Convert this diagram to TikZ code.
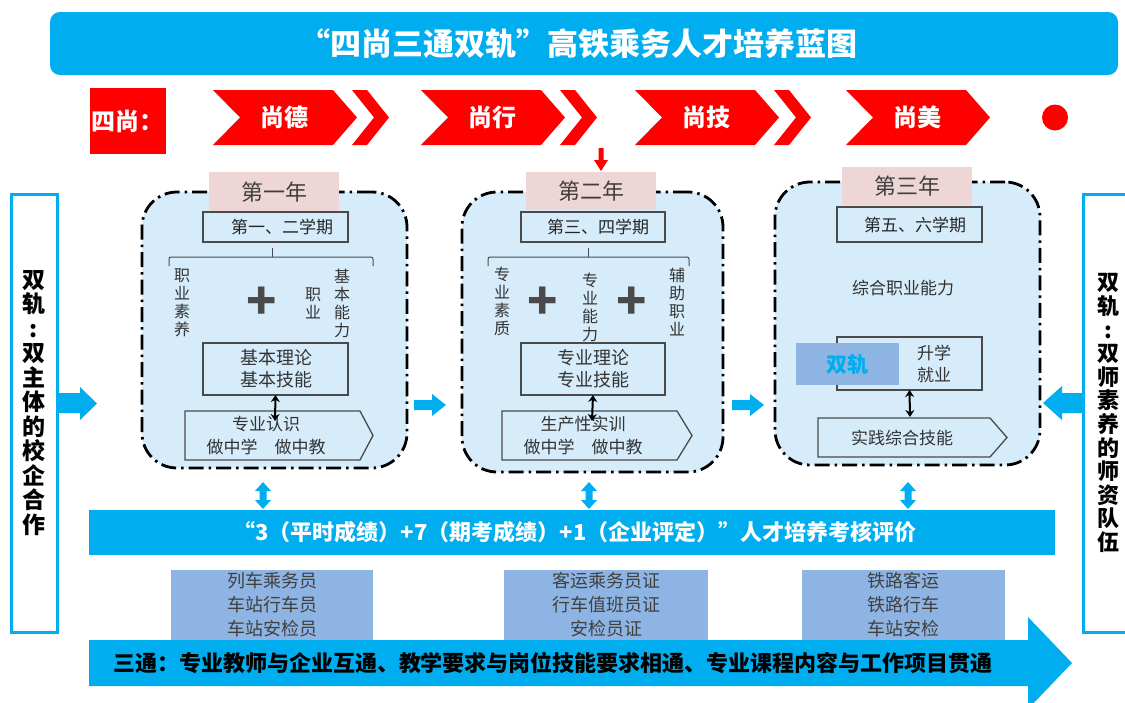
\documentclass[tikz,border=0pt]{standalone}
\usepackage{fontspec}
\setmainfont{Noto Sans CJK SC}
\usetikzlibrary{arrows.meta}
\definecolor{cy}{HTML}{00AEEF}
\definecolor{redz}{HTML}{FF0000}
\definecolor{lb}{HTML}{D6ECFA}
\definecolor{pk}{HTML}{EFD6D6}
\definecolor{cb}{HTML}{8EB4E3}
\definecolor{tg}{HTML}{333333}
\definecolor{lg}{HTML}{404040}
\definecolor{pg}{HTML}{4A4A4A}
\begin{document}
\begin{tikzpicture}[x=1pt,y=-1pt,
  every node/.style={inner sep=0pt, outer sep=0pt},
  yearbox/.style={draw=black, line width=2.8pt, dash pattern=on 15pt off 5pt on 2.5pt off 5pt, fill=lb, rounded corners=35pt},
  yearlbl/.style={fill=pk, text=lg, font=\fontsize{22}{22}\selectfont},
  thinbox/.style={draw=pg, line width=1.2pt, fill=lb},
  semtxt/.style={text=black!85, font=\fontsize{17}{17}\selectfont},
  vtext/.style={text=tg, align=center, font=\fontsize{16}{18}\selectfont},
  inner2/.style={text=tg, align=center, font=\fontsize{18}{22}\selectfont},
  plussign/.style={text=pg, font=\bfseries\fontsize{50}{50}\selectfont},
  brc/.style={draw=pg, line width=1pt, rounded corners=2pt},
  dbl/.style={line width=2pt, draw=black, {Stealth[length=7pt,width=9pt]}-{Stealth[length=7pt,width=9pt]}},
  pent/.style={draw=pg, line width=1.3pt, fill=lb},
  chevtxt/.style={text=white, font=\bfseries\fontsize{24}{24}\selectfont},
  sidetxt/.style={text=black, align=center, font=\bfseries\fontsize{23}{24.5}\selectfont},
  certbox/.style={fill=cb, minimum height=70pt, align=center, text=lg, font=\fontsize{18}{24}\selectfont},
]
\useasboundingbox (0,0) rectangle (1125,702);
\clip (0,0) rectangle (1125,702);

% title
\node[fill=cy, rounded corners=10pt, minimum width=1068pt, minimum height=63pt] (title) at (584,43.5) {};
\node[text=white, font=\bfseries\fontsize{31}{31}\selectfont] (titletxt) at (578,43.5) {“四尚三通双轨”高铁乘务人才培养蓝图};

% four "shang"
\node[fill=redz, minimum width=76pt, minimum height=66pt] (sishang) at (128,121) {};
\node[text=white, font=\bfseries\fontsize{24}{24}\selectfont] (sishangtxt) at (127,121) {四尚：};
\foreach \L in {213,421,635}{
  \fill[redz] (\L+139,90) -- ++(15,0) -- ++(22,27.5) -- ++(-22,27.5) -- ++(-15,0) -- ++(22,-27.5) -- cycle;
}
\foreach \L in {213,421,635,846}{
  \fill[redz] (\L,90) -- ++(120,0) -- ++(24,27.5) -- ++(-24,27.5) -- ++(-120,0) -- ++(27,-27.5) -- cycle;
}
\node[chevtxt] (c1) at (284,117.5) {尚德};
\node[chevtxt] (c2) at (492,117.5) {尚行};
\node[chevtxt] (c3) at (706,117.5) {尚技};
\node[chevtxt] (c4) at (917,117.5) {尚美};
\fill[redz] (1055,117.5) circle (13);
\fill[redz] (598.5,148) -- (603.5,148) -- (603.5,160) -- (608,160) -- (601,171) -- (594,160) -- (598.5,160) -- cycle;

% side panels
\node[draw=cy, line width=3pt, fill=white, minimum width=46pt, minimum height=438pt] (lp) at (34,413) {};
\node[sidetxt] (lpt) at (34,403) {双\\轨\\:\\双\\主\\体\\的\\校\\企\\合\\作};
\node[draw=cy, line width=3pt, fill=white, minimum width=50pt, minimum height=438pt] (rp) at (1108,413) {};
\node[sidetxt, font=\bfseries\fontsize{22}{23.6}\selectfont] (rpt) at (1108,413) {双\\轨\\:\\双\\师\\素\\养\\的\\师\\资\\队\\伍};

% cyan horizontal arrows
\fill[cy] (57,393) -- (80,393) -- (80,387) -- (97,403.5) -- (80,420) -- (80,413) -- (57,413) -- cycle;
\foreach \X in {414,732}{
  \fill[cy] (\X,400) -- (\X+18,400) -- (\X+18,394) -- (\X+32,405) -- (\X+18,416) -- (\X+18,410) -- (\X,410) -- cycle;
}
\fill[cy] (1083,393) -- (1062,393) -- (1062,386) -- (1043,403) -- (1062,420) -- (1062,413) -- (1083,413) -- cycle;

% ===== Year 1 =====
\node[yearbox, minimum width=265pt, minimum height=276pt] (y1) at (274.5,330) {};
\node[yearlbl, minimum width=130pt, minimum height=40pt] (l1) at (274,192) {第一年};
\node[thinbox, minimum width=145pt, minimum height=30pt] (s1) at (275.5,227) {};
\node[semtxt] (s1t) at (282,227) {第一、二学期};
\draw[brc] (169,266) -- (169,257) -- (373,257) -- (373,266);
\draw[brc] (272,257) -- (272,248);
\node[vtext] (v11) at (182,303) {职\\业\\素\\养};
\node[plussign] (p11) at (262,303) {+};
\node[vtext] (v12) at (313,303) {职\\业};
\node[vtext] (v13) at (342,303) {基\\本\\能\\力};
\node[thinbox, minimum width=145pt, minimum height=52pt] (t1) at (275.5,369) {};
\node[inner2] (t1t) at (276,369) {基本理论\\基本技能};
\draw[pent] (185,411) -- (360,411) -- (373,435.5) -- (360,460) -- (185,460) -- cycle;
\node[inner2, font=\fontsize{17}{23}\selectfont] (g1) at (266,435.5) {专业认识\\做中学　做中教};
\coordinate (a1) at (275,421);
\draw[dbl] (t1.south) -- (a1);

% ===== Year 2 =====
\node[yearbox, minimum width=261pt, minimum height=280pt] (y2) at (592.5,332) {};
\node[yearlbl, minimum width=130pt, minimum height=38pt] (l2) at (591,191) {第二年};
\node[thinbox, minimum width=144pt, minimum height=30pt] (s2) at (593,227) {};
\node[semtxt] (s2t) at (598,227) {第三、四学期};
\draw[brc] (488,266) -- (488,257) -- (689,257) -- (689,266);
\draw[brc] (588,257) -- (588,248);
\node[vtext] (v21) at (502,301) {专\\业\\素\\质};
\node[plussign] (p21) at (543,303) {+};
\node[vtext] (v22) at (590,307) {专\\业\\能\\力};
\node[plussign] (p22) at (632,303) {+};
\node[vtext] (v23) at (677,302) {辅\\助\\职\\业};
\node[thinbox, minimum width=144pt, minimum height=52pt] (t2) at (593,369) {};
\node[inner2] (t2t) at (593,369) {专业理论\\专业技能};
\draw[pent] (502,411) -- (677,411) -- (692,435.5) -- (677,460) -- (502,460) -- cycle;
\node[inner2, font=\fontsize{17}{23}\selectfont] (g2) at (583,435.5) {生产性实训\\做中学　做中教};
\coordinate (a2) at (592,421);
\draw[dbl] (t2.south) -- (a2);

% ===== Year 3 =====
\node[yearbox, minimum width=265pt, minimum height=283pt] (y3) at (907.5,323.5) {};
\node[yearlbl, minimum width=130pt, minimum height=38pt] (l3) at (907,186) {第三年};
\node[thinbox, minimum width=145pt, minimum height=35pt] (s3) at (909.5,224.5) {};
\node[semtxt] (s3t) at (915,224.5) {第五、六学期};
\node[text=tg, font=\fontsize{17}{17}\selectfont] (zh) at (903,288) {综合职业能力};
\node[thinbox, minimum width=145pt, minimum height=53pt] (t3) at (909.5,363.5) {};
\node[fill=cb, minimum width=103pt, minimum height=42pt, text=cy, font=\bfseries\fontsize{21}{21}\selectfont] (sg) at (847.5,364) {双轨};
\node[inner2, font=\fontsize{17}{22}\selectfont] (t3t) at (934,364) {升学\\就业};
\draw[pent] (818,418) -- (990,418) -- (1007,437.5) -- (990,457) -- (818,457) -- cycle;
\node[inner2, font=\fontsize{17}{22}\selectfont] (g3) at (902,437.5) {实践综合技能};
\coordinate (a3) at (910,417);
\draw[dbl] (t3.south) -- (a3);

% vertical cyan double arrows
\foreach \X in {263,589,908}{
  \fill[cy] (\X,482) -- (\X+8,491) -- (\X+3.5,491) -- (\X+3.5,500) -- (\X+8,500) -- (\X,509) -- (\X-8,500) -- (\X-3.5,500) -- (\X-3.5,491) -- (\X-8,491) -- cycle;
}

% evaluation bar
\node[fill=cy, minimum width=966pt, minimum height=45pt] (ev) at (572,532.5) {};
\node[text=white, font=\bfseries\fontsize{22}{22}\selectfont] (evt) at (575,532.5) {“3（平时成绩）+7（期考成绩）+1（企业评定）”人才培养考核评价};

% certificate boxes
\node[certbox, minimum width=202pt] (ce1) at (272,605) {列车乘务员\\车站行车员\\车站安检员};
\node[certbox, minimum width=204pt] (ce2) at (606,605) {客运乘务员证\\行车值班员证\\安检员证};
\node[certbox, minimum width=203pt] (ce3) at (903.5,605) {铁路客运\\铁路行车\\车站安检};

% bottom arrow
\fill[cy] (89,640) -- (1028,640) -- (1028,617) -- (1072,663) -- (1028,709) -- (1028,686) -- (89,686) -- cycle;
\node[text=black, font=\bfseries\fontsize{22}{22}\selectfont] (st) at (553,663) {三通：专业教师与企业互通、教学要求与岗位技能要求相通、专业课程内容与工作项目贯通};
\end{tikzpicture}
\end{document}
